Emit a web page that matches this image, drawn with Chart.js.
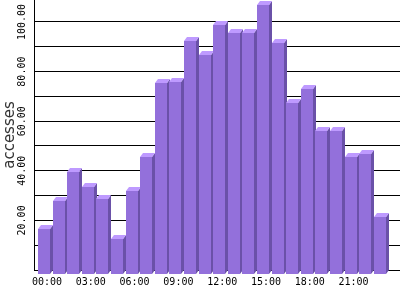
<!DOCTYPE html>
<html><head><meta charset="utf-8">
<script src="https://cdn.jsdelivr.net/npm/chart.js@4/dist/chart.umd.min.js"></script>
<style>html,body{margin:0;padding:0;background:#fff;overflow:hidden}canvas{display:block}</style>
</head><body>
<canvas id="c" width="400" height="300"></canvas>
<script>
// ---- data ----
const hours = ['00:00','01:00','02:00','03:00','04:00','05:00','06:00','07:00','08:00','09:00','10:00','11:00',
               '12:00','13:00','14:00','15:00','16:00','17:00','18:00','19:00','20:00','21:00','22:00','23:00'];
const accesses = [18.3, 29.6, 41.1, 35.2, 30.4, 14.0, 33.6, 47.1, 77.1, 77.5, 94.1, 88.4,
                  100.5, 97.3, 97.3, 108.6, 93.3, 69.1, 74.5, 57.8, 57.8, 47.3, 48.4, 22.9];
const xTickLabels = ['00:00','03:00','06:00','09:00','12:00','15:00','18:00','21:00'];
const yGridValues = [10,20,30,40,50,60,70,80,90,100];
const yTickLabels = [20,40,60,80,100];

const FRONT = '#9370DB', SIDE = '#6A51A8', TOP = '#BE9AFF';

const bar3d = {
  id: 'bar3d',
  afterDatasetsDraw(chart) {
    const ctx = chart.ctx;
    const meta = chart.getDatasetMeta(0);
    const dx = 3, dy = 4;
    ctx.save();
    meta.data.forEach(el => {
      const p = el.getProps(['x','y','base','width'], true);
      const L = Math.round(p.x - p.width/2), R = Math.round(p.x + p.width/2);
      const T = Math.round(p.y), B = Math.round(p.base);
      ctx.fillStyle = FRONT;
      ctx.fillRect(L - dx, T + dy, R - L, B - T);
      ctx.fillStyle = SIDE;
      ctx.beginPath(); ctx.moveTo(R - dx, T + dy); ctx.lineTo(R, T); ctx.lineTo(R, B); ctx.lineTo(R - dx, B + dy); ctx.closePath(); ctx.fill();
      ctx.fillStyle = TOP;
      ctx.beginPath(); ctx.moveTo(L - dx, T + dy); ctx.lineTo(L, T); ctx.lineTo(R, T); ctx.lineTo(R - dx, T + dy); ctx.closePath(); ctx.fill();
    });
    ctx.restore();
  }
};

const mono = {family: "'DejaVu Sans Mono', monospace", size: 10};

new Chart(document.getElementById('c'), {
  type: 'bar',
  data: {
    datasets: [{
      data: accesses.map((v, i) => ({x: i, y: v})),
      backgroundColor: 'rgba(0,0,0,0)',
      borderWidth: 0,
      barThickness: 12
    }]
  },
  plugins: [bar3d],
  options: {
    responsive: false,
    animation: false,
    events: [],
    layout: {padding: 0},
    plugins: {legend: {display: false}, tooltip: {enabled: false}},
    scales: {
      x: {
        type: 'linear', min: -0.89, max: 24.18, offset: false,
        afterBuildTicks: s => { s.ticks = xTickLabels.map(h => ({value: hours.indexOf(h)})); },
        ticks: {callback: v => hours[v], font: mono, color: '#000', padding: 6, maxRotation: 0, minRotation: 0, autoSkip: false},
        grid: {display: false, drawTicks: false},
        border: {display: true, color: '#000', width: 1},
        afterFit: s => { s.height = 30; }
      },
      y: {
        min: 0, max: 108.87,
        afterBuildTicks: s => { s.ticks = yGridValues.map(v => ({value: v})); },
        ticks: {callback: v => yTickLabels.includes(v) ? v.toFixed(2) : '', font: mono, color: '#000',
                minRotation: 90, maxRotation: 90, crossAlign: 'center', padding: -6.5, autoSkip: false},
        grid: {color: '#000', lineWidth: 1, drawTicks: false},
        border: {display: true, color: '#000', width: 1},
        title: {display: true, text: 'accesses', color: '#333', padding: {top: 1, bottom: 0},
                font: {family: "'DejaVu Sans', sans-serif", size: 15}},
        afterFit: s => { s.width = 34; }
      }
    }
  }
});
</script>
</body></html>
